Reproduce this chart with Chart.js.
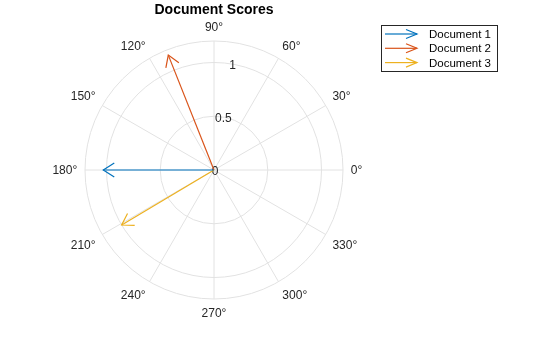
<!DOCTYPE html>
<html>
<head>
<meta charset="utf-8">
<script src="https://cdn.jsdelivr.net/npm/chart.js@4/dist/chart.umd.min.js"></script>
<style>
html,body{margin:0;padding:0;background:#fff;}
#wrap{position:relative;width:560px;height:337px;}
</style>
</head>
<body>
<div id="wrap"><canvas id="c"></canvas></div>
<script>
// ---- data ----
const documents = ['Document 1', 'Document 2', 'Document 3'];
const angleDeg = [180, 111.7, 210.8];
const magnitude = [1.03, 1.15, 1.0];
const colors = ['#0072BD', '#D95319', '#EDB120'];
const rTicks = [0, 0.5, 1];
const rRings = [0.5, 1, 1.2];
const rMax = 1.2;
const thetaTicks = [0, 30, 60, 90, 120, 150, 180, 210, 240, 270, 300, 330];
const titleText = 'Document Scores';

const FONT = '"Liberation Sans", Arial, Helvetica, sans-serif';

const datasets = documents.map((name, i) => {
  const a = angleDeg[i] * Math.PI / 180;
  return {
    label: name,
    data: [{x: 0, y: 0}, {x: magnitude[i] * Math.cos(a), y: magnitude[i] * Math.sin(a)}],
    showLine: true,
    borderColor: colors[i],
    backgroundColor: colors[i],
    borderWidth: 1.2,
    pointRadius: 0,
    pointHoverRadius: 0
  };
});

function arrowHead(ctx, ox, oy, px, py, back, half) {
  const dx = px - ox, dy = py - oy;
  const len = Math.hypot(dx, dy) || 1;
  const ux = dx / len, uy = dy / len;
  const bx = px - ux * back, by = py - uy * back;
  ctx.beginPath();
  ctx.moveTo(bx - uy * half, by + ux * half);
  ctx.lineTo(px, py);
  ctx.lineTo(bx + uy * half, by - ux * half);
  ctx.stroke();
}

const polarPlugin = {
  id: 'polar',
  beforeDatasetsDraw(chart) {
    const ctx = chart.ctx;
    const xs = chart.scales.x, ys = chart.scales.y;
    const cx = xs.getPixelForValue(0), cy = ys.getPixelForValue(0);
    const rpx = v => xs.getPixelForValue(v) - cx;
    ctx.save();
    ctx.strokeStyle = '#e2e2e2';
    ctx.lineWidth = 1;
    // spokes
    thetaTicks.forEach(t => {
      const a = t * Math.PI / 180;
      ctx.beginPath();
      ctx.moveTo(cx, cy);
      ctx.lineTo(xs.getPixelForValue(rMax * Math.cos(a)), ys.getPixelForValue(rMax * Math.sin(a)));
      ctx.stroke();
    });
    // rings
    rRings.forEach(r => {
      ctx.beginPath();
      ctx.arc(cx, cy, rpx(r), 0, Math.PI * 2);
      ctx.stroke();
    });
    // theta labels
    ctx.fillStyle = '#262626';
    ctx.font = '12px ' + FONT;
    const rr = rMax * 1.06;
    thetaTicks.forEach(t => {
      const a = t * Math.PI / 180;
      const x = xs.getPixelForValue(rr * Math.cos(a));
      let y = ys.getPixelForValue(rr * Math.sin(a));
      if (t === 90 || t === 270) ctx.textAlign = 'center';
      else if (t < 90 || t > 270) ctx.textAlign = 'left';
      else ctx.textAlign = 'right';
      if (t === 0 || t === 180) { ctx.textBaseline = 'middle'; y += 1; }
      else if (t < 180) { ctx.textBaseline = 'alphabetic'; y -= 2; }
      else { ctx.textBaseline = 'top'; y += 1; }
      ctx.fillText(t + '°', x, y);
    });
    // r labels at 80 degrees
    ctx.textAlign = 'center';
    ctx.textBaseline = 'middle';
    const la = 80 * Math.PI / 180;
    rTicks.forEach(r => {
      ctx.fillText(String(r), xs.getPixelForValue(r * Math.cos(la)) + (r === 0 ? 1 : 0), ys.getPixelForValue(r * Math.sin(la)) + 1.5);
    });
    // title
    ctx.font = 'bold 14px ' + FONT;
    ctx.fillStyle = '#000';
    ctx.fillText(titleText, cx, 10);
    ctx.restore();
  },
  afterDatasetsDraw(chart) {
    const ctx = chart.ctx;
    ctx.save();
    ctx.lineWidth = 1.2;
    chart.data.datasets.forEach((ds, i) => {
      const meta = chart.getDatasetMeta(i);
      const p0 = meta.data[0], p1 = meta.data[1];
      ctx.strokeStyle = ds.borderColor;
      arrowHead(ctx, p0.x, p0.y, p1.x, p1.y, 11, 7);
    });
    // legend
    const lx = 381.5, ly = 25.5, lw = 116, lh = 46;
    ctx.fillStyle = '#fff';
    ctx.fillRect(lx, ly, lw, lh);
    ctx.strokeStyle = '#262626';
    ctx.lineWidth = 1;
    ctx.strokeRect(lx, ly, lw, lh);
    ctx.font = '11.5px ' + FONT;
    ctx.textAlign = 'left';
    ctx.textBaseline = 'middle';
    chart.data.datasets.forEach((ds, i) => {
      const y = 34 + i * 14.3;
      ctx.strokeStyle = ds.borderColor;
      ctx.lineWidth = 1.2;
      ctx.beginPath();
      ctx.moveTo(385, y);
      ctx.lineTo(417, y);
      ctx.stroke();
      arrowHead(ctx, 385, y, 417, y, 11, 4.5);
      ctx.fillStyle = '#000';
      ctx.fillText(ds.label, 429, y + 1);
    });
    ctx.restore();
  }
};

new Chart(document.getElementById('c'), {
  type: 'scatter',
  data: {datasets},
  options: {
    responsive: true,
    maintainAspectRatio: false,
    animation: false,
    layout: {padding: {left: 85, right: 217, top: 41, bottom: 38}},
    scales: {
      x: {type: 'linear', min: -rMax, max: rMax, display: false},
      y: {type: 'linear', min: -rMax, max: rMax, display: false}
    },
    plugins: {legend: {display: false}, title: {display: false}, tooltip: {enabled: false}}
  },
  plugins: [polarPlugin]
});
</script>
</body>
</html>
